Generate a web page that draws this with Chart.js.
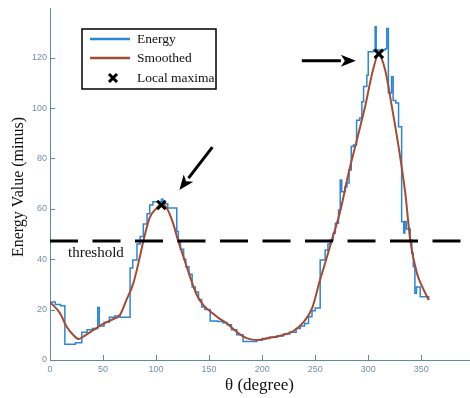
<!DOCTYPE html>
<html>
<head>
<meta charset="utf-8">
<script src="https://cdn.jsdelivr.net/npm/chart.js@4"></script>
<style>
  html, body { margin: 0; padding: 0; background: #fff; }
  #wrap { width: 470px; height: 398px; }
</style>
</head>
<body>
<div id="wrap"><canvas id="chart"></canvas></div>
<script>
// raw energy (stepped) - each value holds until the next angle
const energyTheta = [0, 5, 10, 14, 24, 30, 35, 40, 45, 46.5, 51, 56, 61, 66, 75.5, 78, 82, 85, 88, 91.5, 94, 97, 105, 106.5, 111, 119.5,
  121, 123, 126, 128, 131, 134, 137, 140, 143, 146, 151, 158, 163, 167, 171, 176, 182, 195, 200, 207, 214, 220, 226, 232, 236, 240,
  243.7, 247, 250, 254.7, 259.4, 262, 264, 267, 269, 272, 273.6, 275, 278, 280, 282, 284, 286, 289, 292, 294, 295.6, 298.7, 300,
  305, 306.5, 307.5, 316, 317.5, 319, 322, 323.5, 326, 328.6, 331.5, 333.5, 334.5, 336, 339.6, 341, 342.5, 344, 345.5, 349, 357];
const energyValues = [23, 22, 21.5, 6.3, 6.8, 11, 12, 12.5, 20.8, 13.5, 15, 17, 17.5, 17, 36.5, 39.7, 46, 49, 54, 58, 61.5, 62.8, 63.8, 62, 60.3, 51,
  47, 44, 40, 37, 34, 29, 27, 24, 21, 20, 15.5, 15.3, 14.8, 14, 12, 10, 7.3, 7.8, 8.5, 9, 9.5, 10.3, 11, 12.5, 13.5, 14.5,
  17.2, 19.5, 20.6, 39.7, 43.6, 46, 47.6, 50.3, 54.3, 59.5, 71.4, 66.8, 68.8, 70.2, 75.4, 84.7, 85.3, 95.2, 96, 102.5, 108.5, 113, 122.3,
  123, 132.3, 123, 123.5, 131.6, 106, 112.4, 103, 102, 92.6, 54.9, 50.4, 55, 52, 47.6, 42.4, 37, 26.5, 29, 25.1, 23.8];

// smoothed curve
const smoothTheta = [0, 9.4, 15.7, 22, 27, 31.4, 41, 50, 60, 66, 72, 78.6, 85, 88, 94, 100.6, 105, 110, 116, 121, 125.8, 132, 138.4, 144.6,
  154, 160, 166, 172, 179, 186, 195, 207, 217, 229.5, 239, 247, 254.7, 258, 265.7, 273.6, 281.4, 290, 297, 305, 309.7,
  316, 322.3, 328.6, 335, 339.6, 345.9, 351, 357];
const smoothValues = [23, 18.6, 13.2, 9.9, 8.3, 9.3, 11.9, 14.3, 16.3, 17.9, 23.8, 30.5, 41.5, 47.2, 56.5, 60.3, 61.9, 60.3, 54.3, 47, 41, 33, 25.8, 21.8,
  18.3, 16.3, 14.8, 12.6, 10.2, 8.6, 7.9, 8.8, 9.6, 11.5, 15, 20.5, 32, 36.5, 47.6, 59, 74, 88.5, 100.5, 116, 121.2,
  115, 100.5, 84.7, 66, 47.6, 34.4, 29, 23.8];

const maximaTheta = [105, 310];
const maximaValues = [61.5, 121.5];

const thresholdValue = 47.2;
const thresholdTheta = [0, 387];

const xTicks = [0, 50, 100, 150, 200, 250, 300, 350];
const yTicks = [0, 20, 40, 60, 80, 100, 120];

const axisColor = '#5f8aa3';
const tickColor = '#7490a3';
const blue = '#2a87d8';
const red = '#a84a30';
const serif = '"Liberation Serif", "DejaVu Serif", serif';

const toPoints = (xs, ys) => xs.map((x, i) => ({ x: x, y: ys[i] }));

const overlay = {
  id: 'overlay',
  afterDraw(chart) {
    const ctx = chart.ctx;
    const xs = chart.scales.x;
    const ys = chart.scales.y;
    const area = chart.chartArea;

    // inward tick marks
    ctx.save();
    ctx.strokeStyle = axisColor;
    ctx.lineWidth = 1;
    xTicks.forEach(t => {
      const px = Math.round(xs.getPixelForValue(t)) + 0.5;
      ctx.beginPath();
      ctx.moveTo(px, area.bottom);
      ctx.lineTo(px, area.bottom - 5);
      ctx.stroke();
    });
    yTicks.forEach(t => {
      const py = Math.round(ys.getPixelForValue(t)) + 0.5;
      ctx.beginPath();
      ctx.moveTo(area.left, py);
      ctx.lineTo(area.left + 5, py);
      ctx.stroke();
    });

    // axis titles
    ctx.fillStyle = '#111';
    ctx.font = '17px ' + serif;
    ctx.textAlign = 'center';
    ctx.textBaseline = 'middle';
    ctx.fillText('θ (degree)', (area.left + area.right) / 2, 386);
    ctx.save();
    ctx.translate(19, (area.top + area.bottom) / 2 + 3);
    ctx.rotate(-Math.PI / 2);
    ctx.font = '16px ' + serif;
    ctx.fillText('Energy Value (minus)', 0, 0);
    ctx.restore();

    // threshold label
    ctx.font = '15px ' + serif;
    ctx.textAlign = 'left';
    ctx.fillText('threshold', area.left + 18, ys.getPixelForValue(thresholdValue) + 12);

    // arrows pointing to the maxima
    const arrow = (x1, y1, x2, y2) => {
      const ang = Math.atan2(y2 - y1, x2 - x1);
      const hl = 15, hw = 6;
      const bx = x2 - hl * Math.cos(ang), by = y2 - hl * Math.sin(ang);
      ctx.strokeStyle = '#000';
      ctx.lineWidth = 3;
      ctx.beginPath();
      ctx.moveTo(x1, y1);
      ctx.lineTo(bx, by);
      ctx.stroke();
      ctx.fillStyle = '#000';
      ctx.beginPath();
      ctx.moveTo(x2, y2);
      ctx.lineTo(bx + hw * Math.sin(ang), by - hw * Math.cos(ang));
      ctx.lineTo(bx + 4 * Math.cos(ang), by + 4 * Math.sin(ang));
      ctx.lineTo(bx - hw * Math.sin(ang), by + hw * Math.cos(ang));
      ctx.closePath();
      ctx.fill();
    };
    const m1x = xs.getPixelForValue(maximaTheta[0]), m1y = ys.getPixelForValue(maximaValues[0]);
    const m2x = xs.getPixelForValue(maximaTheta[1]), m2y = ys.getPixelForValue(maximaValues[1]);
    arrow(m1x + 51, m1y - 58, m1x + 18, m1y - 15);
    arrow(m2x - 77, m2y + 7, m2x - 23, m2y + 7);

    // legend box
    const lx = 82, ly = 29, lw = 134, lh = 60;
    ctx.fillStyle = '#fff';
    ctx.fillRect(lx, ly, lw, lh);
    ctx.strokeStyle = '#000';
    ctx.lineWidth = 1.5;
    ctx.strokeRect(lx, ly, lw, lh);
    const rows = [
      { label: 'Energy', color: blue, y: ly + 10 },
      { label: 'Smoothed', color: red, y: ly + 29 },
      { label: 'Local maxima', color: null, y: ly + 49 }
    ];
    ctx.font = '13.5px ' + serif;
    ctx.textBaseline = 'middle';
    rows.forEach(r => {
      if (r.color) {
        ctx.strokeStyle = r.color;
        ctx.lineWidth = 2.5;
        ctx.beginPath();
        ctx.moveTo(lx + 8, r.y);
        ctx.lineTo(lx + 48, r.y);
        ctx.stroke();
      } else {
        ctx.strokeStyle = '#000';
        ctx.lineWidth = 3;
        ctx.beginPath();
        ctx.moveTo(lx + 27, r.y - 4); ctx.lineTo(lx + 35, r.y + 4);
        ctx.moveTo(lx + 35, r.y - 4); ctx.lineTo(lx + 27, r.y + 4);
        ctx.stroke();
      }
      ctx.fillStyle = '#111';
      ctx.fillText(r.label, lx + 55, r.y);
    });
    ctx.restore();
  }
};

new Chart(document.getElementById('chart'), {
  type: 'line',
  data: {
    datasets: [
      {
        label: 'Local maxima',
        data: toPoints(maximaTheta, maximaValues),
        showLine: false,
        pointStyle: 'crossRot',
        pointRadius: 6,
        pointBorderWidth: 3,
        pointBorderColor: '#000',
        order: 0
      },
      {
        label: 'threshold',
        data: toPoints(thresholdTheta, [thresholdValue, thresholdValue]),
        borderColor: '#000',
        borderWidth: 3,
        borderDash: [28, 14.5],
        pointRadius: 0,
        order: 1
      },
      {
        label: 'Smoothed',
        data: toPoints(smoothTheta, smoothValues),
        borderColor: red,
        borderWidth: 2,
        cubicInterpolationMode: 'monotone',
        pointRadius: 0,
        order: 2
      },
      {
        label: 'Energy',
        data: toPoints(energyTheta, energyValues),
        borderColor: blue,
        borderWidth: 1.5,
        stepped: 'before',
        pointRadius: 0,
        order: 3
      }
    ]
  },
  options: {
    responsive: true,
    maintainAspectRatio: false,
    animation: false,
    layout: { autoPadding: false, padding: { left: 0, top: 8, right: 1, bottom: 0 } },
    plugins: { legend: { display: false }, tooltip: { enabled: false } },
    scales: {
      x: {
        type: 'linear',
        min: 0,
        max: 395,
        afterBuildTicks: s => { s.ticks = xTicks.map(v => ({ value: v })); },
        afterFit: s => { s.height = 38; s.paddingLeft = 0; s.paddingRight = 0; },
        grid: { display: false, drawTicks: false },
        border: { display: true, color: axisColor, width: 1 },
        ticks: { color: tickColor, font: { family: '"Liberation Sans", sans-serif', size: 9 }, padding: 4, maxRotation: 0 }
      },
      y: {
        min: 0,
        max: 139.7,
        afterBuildTicks: s => { s.ticks = yTicks.map(v => ({ value: v })); },
        afterFit: s => { s.width = 50; s.paddingTop = 0; s.paddingBottom = 0; },
        grid: { display: false, drawTicks: false },
        border: { display: true, color: axisColor, width: 1 },
        ticks: { color: tickColor, font: { family: '"Liberation Sans", sans-serif', size: 9 }, padding: 3 }
      }
    }
  },
  plugins: [overlay]
});
</script>
</body>
</html>
